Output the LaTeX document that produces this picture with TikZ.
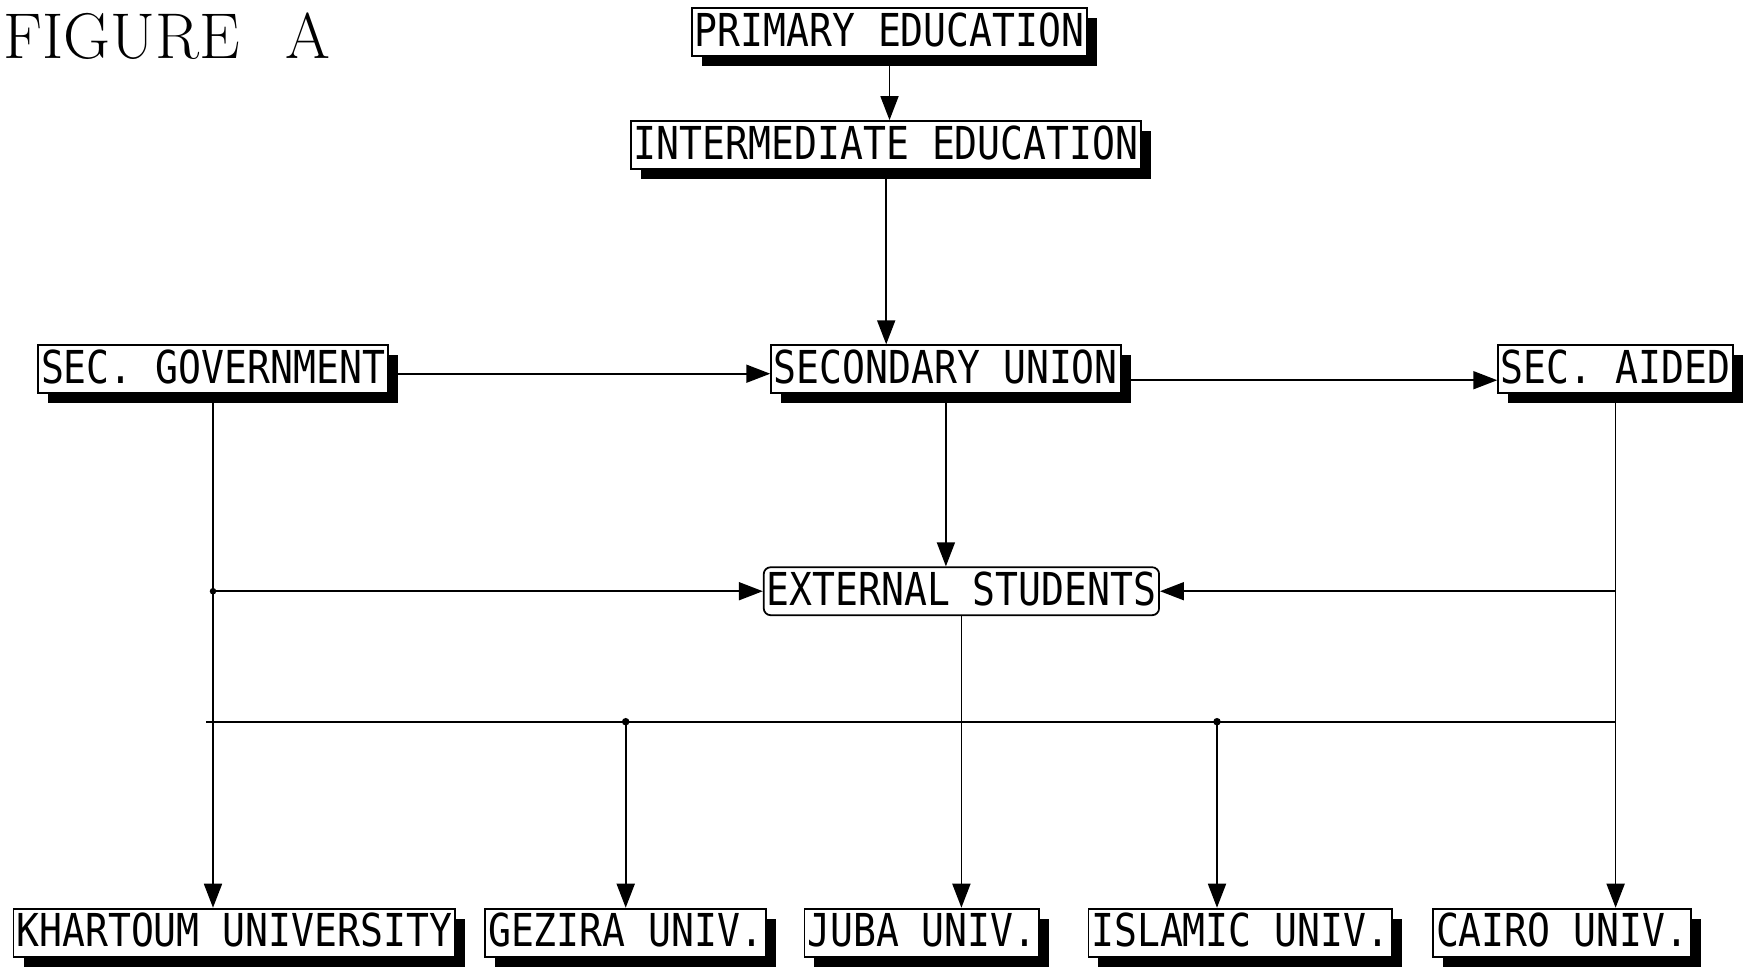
\documentclass[tikz,border=0pt]{standalone}
\usepackage{fontspec}
\usetikzlibrary{arrows.meta,shadows}
\newfontfamily\plotterfont[FakeStretch=0.84]{DejaVu Sans Mono}

\begin{document}
\begin{tikzpicture}
        \tikzset{plain/.style={draw, fill=white, line width=0.5pt, inner xsep=0.8pt, inner ysep=0pt,
                   minimum height=0.48cm, text depth=1.5pt, font={\plotterfont\fontsize{12.9}{14}\selectfont}},
                 box/.style={plain, drop shadow={shadow xshift=0.1cm, shadow yshift=-0.1cm, fill=black, opacity=1}},
                 flow/.style={line width=0.5pt, -{Triangle[length=0.24cm, width=0.18cm]}}}
        \useasboundingbox (0,0) rectangle (17.49,-9.69);

        \node [anchor=base west, inner sep=0, font=\fontsize{18.4}{21}\selectfont] (title) at (0.03,-0.583) {FIGURE\hspace{13pt}A};

        \node [box] (primary) at (8.895,-0.323) {PRIMARY EDUCATION};
        \node [box] (intermediate) at (8.862,-1.45) {INTERMEDIATE EDUCATION};
        \node [box] (secgov) at (2.13,-3.692) {SEC. GOVERNMENT};
        \node [box] (secunion) at (9.459,-3.692) {SECONDARY UNION};
        \node [box] (secaided) at (16.156,-3.692) {SEC. AIDED};
        \node [plain, rounded corners=2pt] (external) at (9.614,-5.912) {EXTERNAL STUDENTS};
        \node [box] (khartoum) at (2.342,-9.326) {KHARTOUM UNIVERSITY};
        \node [box] (gezira) at (6.257,-9.326) {GEZIRA UNIV.};
        \node [box] (juba) at (9.219,-9.326) {JUBA UNIV.};
        \node [box] (islamic) at (12.403,-9.326) {ISLAMIC UNIV.};
        \node [box] (cairo) at (15.621,-9.326) {CAIRO UNIV.};

        \coordinate (govjoin) at (secgov.south |- external.west);
        \coordinate (aidjoin) at (secaided.south |- external.east);
        \coordinate (busleft) at (2.06,-7.217);
        \coordinate (busright) at (secaided.south |- busleft);
        \coordinate (gezjoin) at (gezira.north |- busleft);
        \coordinate (isljoin) at (12.17,-7.217);

        \draw [flow] (primary.south) -- (primary.south |- intermediate.north);
        \draw [flow] (intermediate.south) -- (intermediate.south |- secunion.north);
        \draw [flow] ([yshift=-0.45mm]secgov.east) -- ([yshift=-0.45mm]secunion.west);
        \draw [flow] ([yshift=-1.1mm]secunion.east) -- ([yshift=-1.1mm]secaided.west);
        \draw [flow] (secunion.south) -- (secunion.south |- external.north);
        \draw [flow] (secgov.south) -- (secgov.south |- khartoum.north);
        \draw [flow] (secaided.south) -- (secaided.south |- cairo.north);
        \draw [flow] (govjoin) -- (external.west);
        \draw [flow] (aidjoin) -- (external.east);
        \draw [flow] (external.south) -- (external.south |- juba.north);
        \draw [line width=0.5pt] (busleft) -- (busright);
        \draw [flow] (gezjoin) -- (gezira.north);
        \draw [flow] (isljoin) -- (isljoin |- islamic.north);
        \draw [fill] (govjoin) circle [radius=0.025];
        \draw [fill] (gezjoin) circle [radius=0.03];
        \draw [fill] (isljoin) circle [radius=0.03];
\end{tikzpicture}
\end{document}
